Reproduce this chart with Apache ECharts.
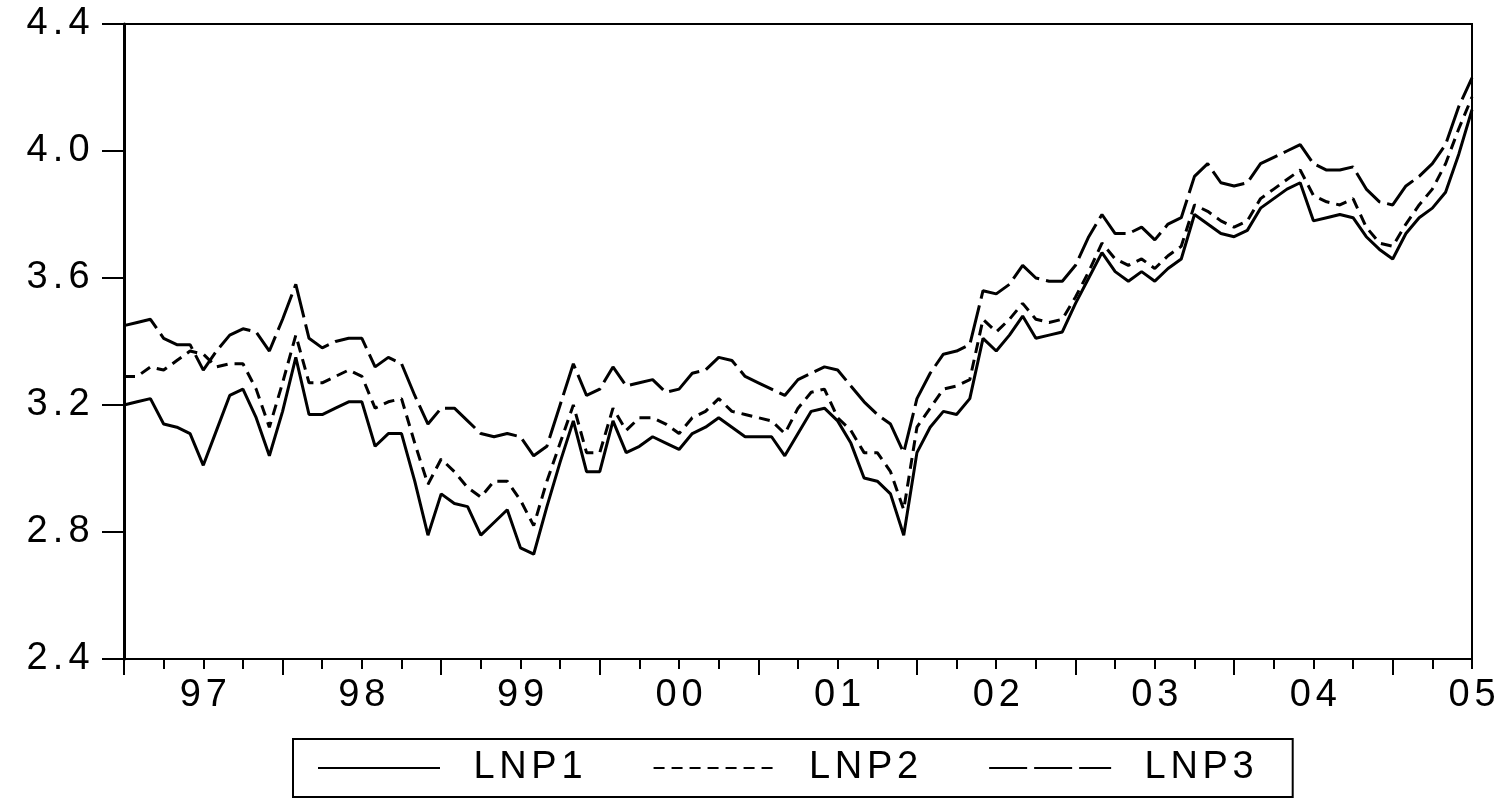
<!DOCTYPE html>
<html>
<head>
<meta charset="utf-8">
<script src="https://cdn.jsdelivr.net/npm/echarts@6/dist/echarts.min.js"></script>
<style>
html,body{margin:0;padding:0;background:#fff;}
#c{width:1511px;height:809px;}
</style>
</head>
<body>
<div id="c"></div>
<script>
// Monthly observations 1996M07 .. 2005M01
const startYear = 1996, startMonth = 7, nObs = 103;
const yearLabels = ['97','98','99','00','01','02','03','04','05'];
const yTicks = [2.4, 2.8, 3.2, 3.6, 4.0, 4.4];
const seriesNames = ['LNP1', 'LNP2', 'LNP3'];

const LNP1 = [3.20,3.21,3.22,3.14,3.13,3.11,3.01,3.12,3.23,3.25,3.16,3.04,3.18,3.35,3.17,3.17,3.19,3.21,3.21,3.07,3.11,3.11,2.96,2.79,2.92,2.89,2.88,2.79,2.83,2.87,2.75,2.73,2.88,3.02,3.15,2.99,2.99,3.15,3.05,3.07,3.10,3.08,3.06,3.11,3.13,3.16,3.13,3.10,3.10,3.10,3.04,3.11,3.18,3.19,3.15,3.08,2.97,2.96,2.92,2.79,3.05,3.13,3.18,3.17,3.22,3.41,3.37,3.42,3.48,3.41,3.42,3.43,3.52,3.60,3.68,3.62,3.59,3.62,3.59,3.63,3.66,3.80,3.77,3.74,3.73,3.75,3.82,3.85,3.88,3.90,3.78,3.79,3.80,3.79,3.73,3.69,3.66,3.74,3.79,3.82,3.87,3.99,4.13];
const LNP2 = [3.29,3.29,3.32,3.31,3.34,3.37,3.36,3.32,3.33,3.33,3.25,3.13,3.27,3.42,3.27,3.27,3.29,3.31,3.29,3.19,3.21,3.22,3.08,2.95,3.03,2.99,2.94,2.91,2.96,2.96,2.90,2.82,2.96,3.08,3.20,3.05,3.05,3.19,3.12,3.16,3.16,3.14,3.11,3.16,3.18,3.22,3.18,3.17,3.16,3.15,3.11,3.19,3.24,3.25,3.16,3.12,3.05,3.05,2.99,2.87,3.13,3.19,3.25,3.26,3.28,3.47,3.43,3.47,3.52,3.47,3.46,3.47,3.54,3.62,3.71,3.66,3.64,3.66,3.63,3.67,3.70,3.83,3.81,3.78,3.76,3.78,3.85,3.88,3.91,3.94,3.86,3.84,3.83,3.85,3.76,3.71,3.70,3.77,3.83,3.88,3.96,4.07,4.17];
const LNP3 = [3.45,3.46,3.47,3.41,3.39,3.39,3.31,3.37,3.42,3.44,3.43,3.37,3.47,3.58,3.41,3.38,3.40,3.41,3.41,3.32,3.35,3.33,3.23,3.14,3.19,3.19,3.15,3.11,3.10,3.11,3.10,3.04,3.07,3.20,3.33,3.23,3.25,3.32,3.26,3.27,3.28,3.24,3.25,3.30,3.31,3.35,3.34,3.29,3.27,3.25,3.23,3.28,3.30,3.32,3.31,3.26,3.21,3.17,3.14,3.05,3.22,3.30,3.36,3.37,3.39,3.56,3.55,3.58,3.64,3.60,3.59,3.59,3.64,3.73,3.80,3.74,3.74,3.76,3.72,3.77,3.79,3.92,3.96,3.90,3.89,3.90,3.96,3.98,4.00,4.02,3.96,3.94,3.94,3.95,3.88,3.84,3.83,3.89,3.92,3.96,4.02,4.14,4.23];

const months = [];
for (let i = 0; i < nObs; i++) {
  const m = startMonth - 1 + i;
  months.push((startYear + Math.floor(m / 12)) + 'M' + String(m % 12 + 1).padStart(2, '0'));
}
function yearLabelOf(idx) {
  const y = parseInt(months[idx].slice(0, 4), 10);
  const s = String(y % 100).padStart(2, '0');
  return yearLabels.indexOf(s) >= 0 ? s : '';
}

const FONT = '"Liberation Sans", Arial, sans-serif';
// Helvetica/Arial advance widths (em): each glyph gets a slightly wider box,
// imitating the broad lettering of the reference
const ADV = {'0':0.556,'1':0.556,'2':0.556,'3':0.556,'4':0.556,'5':0.556,'6':0.556,'7':0.556,'8':0.556,'9':0.556,'.':0.278,'L':0.556,'N':0.722,'P':0.667};
function makeWide(fs, extra) {
  const rich = {sp: {width: 26, fontFamily: FONT, fontSize: fs}};
  Object.keys(ADV).forEach(ch => {
    rich['g' + ch.charCodeAt(0)] = {width: Math.round(ADV[ch] * fs + extra), align: 'center', fontFamily: FONT, fontSize: fs, color: '#000'};
  });
  const fmt = (str) => str.split('').map(ch => '{g' + ch.charCodeAt(0) + '|' + ch + '}').join('');
  return {rich, fmt};
}
const axisW = makeWide(38, 5);
const legW = makeWide(38, 5);

const chart = echarts.init(document.getElementById('c'), null, {renderer: 'canvas'});
const base = {type: 'line', showSymbol: false, symbol: 'none', animation: false, xAxisIndex: 0, yAxisIndex: 0};
const LW = 3;
chart.setOption({
  backgroundColor: '#fff',
  animation: false,
  grid: {left: 124, right: 39, top: 24, bottom: 150, show: true, borderColor: '#000', borderWidth: 2, backgroundColor: 'transparent'},
  legend: {
    left: 293, top: 739,
    padding: [10, 39, 10, 24],
    borderColor: '#000', borderWidth: 2, borderRadius: 0,
    itemWidth: 122, itemHeight: 20, itemGap: 70,
    itemStyle: {opacity: 0, borderWidth: 0},
    formatter: (name) => '{sp| }' + legW.fmt(name),
    textStyle: {fontFamily: FONT, fontSize: 38, color: '#000', rich: legW.rich},
    data: seriesNames
  },
  xAxis: [{
    type: 'category', data: months, boundaryGap: false,
    axisLine: {show: true, lineStyle: {color: '#000', width: 2}},
    axisTick: {show: true, length: 10, lineStyle: {color: '#000', width: 2}, interval: (i) => i % 3 === 0},
    axisLabel: {show: true, interval: (i) => i % 12 === 6, formatter: (v, i) => axisW.fmt(yearLabelOf(i)), margin: 18, color: '#000', fontFamily: FONT, fontSize: 38, rich: axisW.rich},
    splitLine: {show: false}
  }, {
    type: 'category', data: months, boundaryGap: false, position: 'bottom', offset: 0,
    axisLine: {show: false},
    axisTick: {show: true, length: 16, lineStyle: {color: '#000', width: 2}, interval: (i) => i % 12 === 0},
    axisLabel: {show: false},
    splitLine: {show: false}
  }],
  yAxis: {
    type: 'value', min: yTicks[0], max: yTicks[yTicks.length - 1], interval: 0.4,
    axisLine: {show: true, lineStyle: {color: '#000', width: 3}},
    axisTick: {show: true, length: 22, lineStyle: {color: '#000', width: 2}},
    axisLabel: {margin: 32, color: '#000', fontFamily: FONT, fontSize: 38, formatter: (v) => axisW.fmt(v.toFixed(1)), rich: axisW.rich},
    splitLine: {show: false}
  },
  series: [
    Object.assign({}, base, {name: seriesNames[0], data: LNP1, lineStyle: {color: '#000', width: LW, type: 'solid'}, itemStyle: {color: '#000'}}),
    Object.assign({}, base, {name: seriesNames[1], data: LNP2, lineStyle: {color: '#000', width: LW, type: [11, 7]}, itemStyle: {color: '#000'}}),
    Object.assign({}, base, {name: seriesNames[2], data: LNP3, lineStyle: {color: '#000', width: LW, type: [38, 7]}, itemStyle: {color: '#000'}})
  ]
});
</script>
</body>
</html>
